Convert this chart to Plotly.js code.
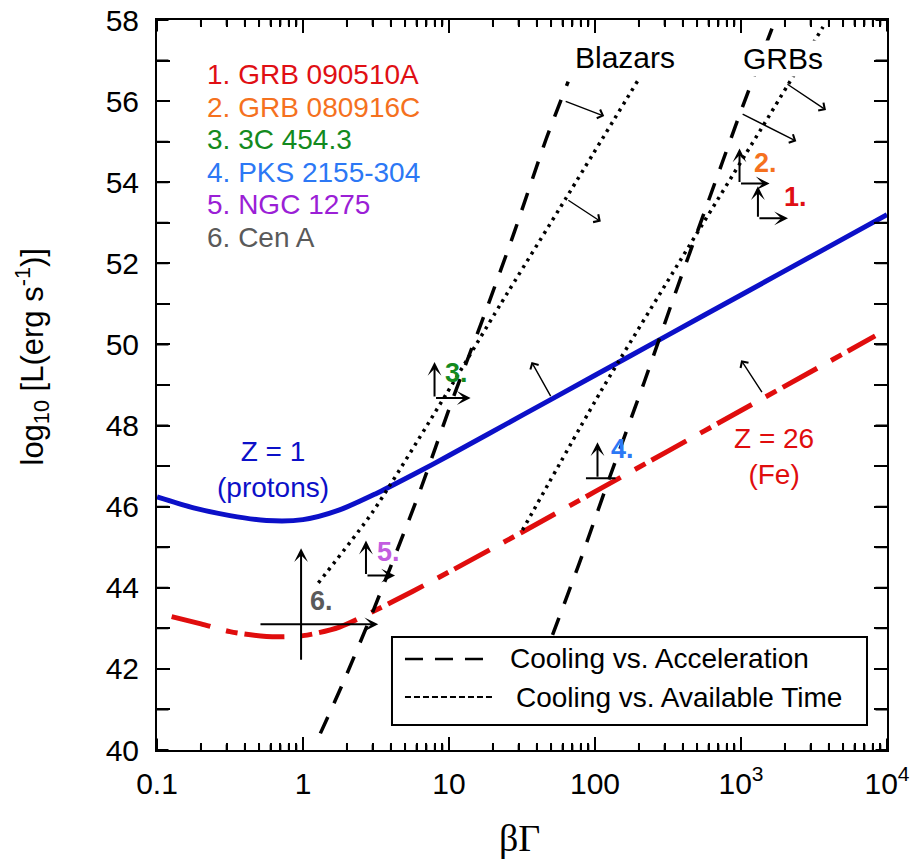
<!DOCTYPE html>
<html><head><meta charset="utf-8">
<script src="https://cdn.plot.ly/plotly-3.0.1.min.js"></script>
<style>html,body{margin:0;padding:0;background:#fff}</style>
</head><body>
<div id="chart" style="width:913px;height:860px"></div>
<script>
// ---- data ----
// Z = 1 (protons), solid blue
const protonGamma = [0.1, 0.178, 0.316, 0.562, 1, 1.78, 3.16, 5.62, 10, 31.6, 100, 316, 1000, 3162, 10000];
const protonLogL  = [46.24, 45.97, 45.78, 45.66, 45.68, 45.92, 46.32, 46.78, 47.26, 48.25, 49.24, 50.23, 51.22, 52.21, 53.2];
// Z = 26 (Fe), red dash-dot
const ironGamma = [0.126, 0.2, 0.316, 0.562, 1, 1.78, 3.16, 5.62, 10, 31.6, 100, 316, 1000, 3162, 8300];
const ironLogL  = [43.29, 43.11, 42.92, 42.80, 42.82, 43.03, 43.45, 43.91, 44.39, 45.37, 46.37, 47.37, 48.37, 49.37, 50.21];
// Blazars: cooling vs acceleration (dashed)
const blazarAccGamma = [1.315, 1.852, 2.976, 6.215, 10.54, 18.32, 27.89, 46.03, 65.5];
const blazarAccLogL  = [40.41, 41.60, 43.37, 46.31, 48.63, 50.93, 52.75, 55.04, 56.48];
// Blazars: cooling vs available time (dotted)
const blazarTimeGamma = [1.274, 2.976, 9.478, 22.61, 63.14, 196.1];
const blazarTimeLogL  = [44.12, 45.85, 48.75, 51.0, 53.6, 56.5];
// GRBs: cooling vs acceleration (dashed)
const grbAccGamma = [51.2, 78.0, 125.3, 217.8, 341.2, 562.3, 977.2, 1698];
const grbAccLogL  = [42.84, 44.60, 46.70, 49.08, 51.09, 53.27, 55.66, 57.96];
// GRBs: cooling vs available time (dotted)
const grbTimeGamma = [31.84, 109.9, 388.1, 1449, 3648];
const grbTimeLogL  = [45.42, 48.85, 52.1, 55.45, 57.83];
// Sources (lower limits)
const srcName  = ['1. GRB 090510A', '2. GRB 080916C', '3. 3C 454.3', '4. PKS 2155-304', '5. NGC 1275', '6. Cen A'];
const srcColor = ['#e00f14', '#f5711e', '#138a1e', '#2c78f5', '#9b1fd6', '#5a5a5a'];
const srcMarkColor = ['#e00f14', '#f5711e', '#138a1e', '#2c78f5', '#c35de0', '#5a5a5a'];
const srcGamma = [1306, 977, 7.96, 104, 2.70, 0.97];
const srcLogL  = [53.11, 53.97, 48.68, 46.70, 44.30, 43.10];
// Axis ticks
const xTickVals = [0.1, 1, 10, 100, 1000, 10000];
const xTickText = ['0.1', '1', '10', '100', '10<sup>3</sup>', '10<sup>4</sup>'];
const yRange = [40, 58];

// ---- style / geometry ----
const FONT = 'Liberation Sans, Arial, Helvetica, sans-serif';
const pxPerDec = 145.7, pxPerUnit = 40.56;
// per-source arrow geometry in px: [up, down, right, left, rightHead]
const srcArrowGeom = [
  [32, 0, 30, 0, true], [35, 0, 30, 0, true], [36, 0, 36, 0, true],
  [36, 0, 18, 13, false], [35, 0, 29, 0, true], [76, 37, 77, 42, true]
];
const srcLabelShift = [[38, 21], [26, 20], [22, 25], [25, 29], [23, 24], [20, 23]];
// "allowed region" arrows: [tailLogX, tailY, headLogX, headY]
const regionArrows = [
  [1.789, 56.01, 2.063, 55.63], [1.807, 53.58, 2.040, 53.03], [3.001, 55.70, 3.379, 55.01],
  [3.308, 56.44, 3.582, 55.78], [1.702, 48.69, 1.565, 49.57], [3.150, 48.79, 3.001, 49.61]
];

const traces = [
  {x: protonGamma, y: protonLogL, mode: 'lines', line: {color: '#0c10c8', width: 5, shape: 'spline', smoothing: 0.8}},
  {x: ironGamma, y: ironLogL, mode: 'lines', line: {color: '#e00d0d', width: 5, shape: 'spline', smoothing: 0.8, dash: '40px,16px,12px,7px'}},
  {x: blazarAccGamma, y: blazarAccLogL, mode: 'lines', line: {color: '#000', width: 3.5, shape: 'spline', smoothing: 0.6, dash: '18px,15px'}},
  {x: grbAccGamma, y: grbAccLogL, mode: 'lines', line: {color: '#000', width: 3.5, shape: 'spline', smoothing: 0.6, dash: '18px,15px'}},
  {x: blazarTimeGamma, y: blazarTimeLogL, mode: 'lines', line: {color: '#000', width: 3.5, shape: 'spline', smoothing: 0.6, dash: '3px,5px'}},
  {x: grbTimeGamma, y: grbTimeLogL, mode: 'lines', line: {color: '#000', width: 3.5, shape: 'spline', smoothing: 0.6, dash: '3px,5px'}}
];

const minorX = [];
[0.1, 1, 10, 100, 1000].forEach(d => { for (let k = 2; k <= 9; k++) minorX.push(d * k); });

const ann = [];
function arrow(x, y, ax, ay, head, width, size, color) {
  ann.push({x: x, y: y, ax: ax, ay: ay, xref: 'x', yref: 'y', axref: 'x', ayref: 'y',
    text: '', showarrow: true, arrowhead: head, arrowwidth: width, arrowsize: size,
    arrowcolor: color || '#000'});
}
// frame tick marks (inside, on all four sides)
function tick(x, xref, y, yref, dx, dy) {
  ann.push({x: x, y: y, xref: xref, yref: yref, ax: dx, ay: dy, text: '', showarrow: true,
    arrowhead: 0, arrowwidth: 2, arrowcolor: '#000', standoff: 0, startstandoff: 0});
}
xTickVals.forEach(v => { const lv = Math.log10(v); tick(lv, 'x', 0, 'paper', 0, -13); tick(lv, 'x', 1, 'paper', 0, 13); });
minorX.forEach(v => { const lv = Math.log10(v); tick(lv, 'x', 0, 'paper', 0, -7); tick(lv, 'x', 1, 'paper', 0, 7); });
for (let v = yRange[0]; v <= yRange[1]; v++) { tick(0, 'paper', v, 'y', 13, 0); tick(1, 'paper', v, 'y', -13, 0); }

// Source markers
srcGamma.forEach((g, i) => {
  const lx = Math.log10(g), L = srcLogL[i];
  const [up, down, right, left, rh] = srcArrowGeom[i];
  arrow(lx, L + up / pxPerUnit, lx, L - down / pxPerUnit, 3, 2, 1.15);
  arrow(lx + right / pxPerDec, L, lx - left / pxPerDec, L, rh ? 3 : 0, 2, 1.15);
  ann.push({x: lx, y: L, xref: 'x', yref: 'y', text: '<b>' + srcName[i].split(' ')[0] + '</b>',
    showarrow: false, xshift: srcLabelShift[i][0], yshift: srcLabelShift[i][1],
    font: {family: FONT, size: 27, color: srcMarkColor[i]}});
  ann.push({xref: 'paper', yref: 'paper', x: 0.0658, y: 0.9247 - i * 0.0444, xanchor: 'left', yanchor: 'middle',
    text: srcName[i], showarrow: false, font: {family: FONT, size: 28, color: srcColor[i]}});
});
regionArrows.forEach(a => arrow(a[2], a[3], a[0], a[1], 4, 1.4, 1.3));

const texts = [
  ['Blazars', 0.6411, 0.9493, 30, '#000'],
  ['GRBs', 0.8575, 0.9479, 30, '#000'],
  ['Z = 1<br>(protons)', 0.1589, 0.3836, 28, '#0c10c8'],
  ['Z = 26<br>(Fe)', 0.8452, 0.4014, 28, '#e00d0d']
];
texts.forEach(t => ann.push({xref: 'paper', yref: 'paper', x: t[1], y: t[2], text: t[0], showarrow: false,
  xanchor: 'center', yanchor: 'middle', bgcolor: t[0] === 'GRBs' ? '#fff' : 'rgba(0,0,0,0)',
  font: {family: FONT, size: t[3], color: t[4]}}));
// legend texts
ann.push({xref: 'paper', yref: 'paper', x: 0.4808, y: 0.1247, xanchor: 'left', yanchor: 'middle', showarrow: false,
  text: 'Cooling vs. Acceleration', font: {family: FONT, size: 28, color: '#000'}});
ann.push({xref: 'paper', yref: 'paper', x: 0.489, y: 0.0726, xanchor: 'left', yanchor: 'middle', showarrow: false,
  text: 'Cooling vs. Available Time', font: {family: FONT, size: 28, color: '#000'}});
// axis titles
ann.push({xref: 'paper', yref: 'paper', x: 0.4959, y: -0.1205, xanchor: 'center', yanchor: 'middle', showarrow: false,
  text: 'βΓ', font: {family: 'Liberation Serif, Times New Roman, serif', size: 38, color: '#000'}});
ann.push({xref: 'paper', yref: 'paper', x: -0.1712, y: 0.5377, xanchor: 'center', yanchor: 'middle', showarrow: false,
  textangle: -90, text: 'log<sub>10</sub> [L(erg s<sup>-1</sup>)]', font: {family: FONT, size: 31, color: '#000'}});

const shapes = [
  {type: 'rect', xref: 'paper', yref: 'paper', x0: 0.3219, x1: 0.9726, y0: 0.0342, y1: 0.1548,
   fillcolor: '#fff', line: {color: '#000', width: 2}, layer: 'above'},
  {type: 'line', xref: 'paper', yref: 'paper', x0: 0.3397, x1: 0.4534, y0: 0.1247, y1: 0.1247,
   line: {color: '#000', width: 2.5, dash: '18px,12px'}, layer: 'above'},
  {type: 'line', xref: 'paper', yref: 'paper', x0: 0.3397, x1: 0.4603, y0: 0.0726, y1: 0.0726,
   line: {color: '#000', width: 2, dash: '6px,3px'}, layer: 'above'}
];

const tickCommon = {ticks: 'inside', tickcolor: '#000', tickwidth: 2, ticklen: 13, showgrid: false, zeroline: false,
  showline: true, linecolor: '#000', linewidth: 2, mirror: 'allticks'};

const layout = {
  width: 913, height: 860,
  margin: {l: 157, r: 26, t: 20, b: 110},
  paper_bgcolor: '#fff', plot_bgcolor: '#fff',
  showlegend: false,
  xaxis: Object.assign({}, tickCommon, {type: 'log', range: [-1, 4], tickmode: 'array', tickvals: xTickVals,
    ticktext: xTickText, ticklabelstandoff: 6, tickfont: {family: FONT, size: 30, color: '#000'},
    minor: {tickmode: 'array', tickvals: minorX, ticks: 'inside', ticklen: 7, tickwidth: 2, tickcolor: '#000'}}),
  yaxis: Object.assign({}, tickCommon, {range: yRange, dtick: 2, tick0: 40,
    ticklabelstandoff: 10, tickfont: {family: FONT, size: 30, color: '#000'},
    minor: {dtick: 1, ticks: 'inside', ticklen: 13, tickwidth: 2, tickcolor: '#000'}}),
  annotations: ann,
  shapes: shapes
};

Plotly.newPlot('chart', traces, layout, {displayModeBar: false, staticPlot: true});
</script>
</body></html>
